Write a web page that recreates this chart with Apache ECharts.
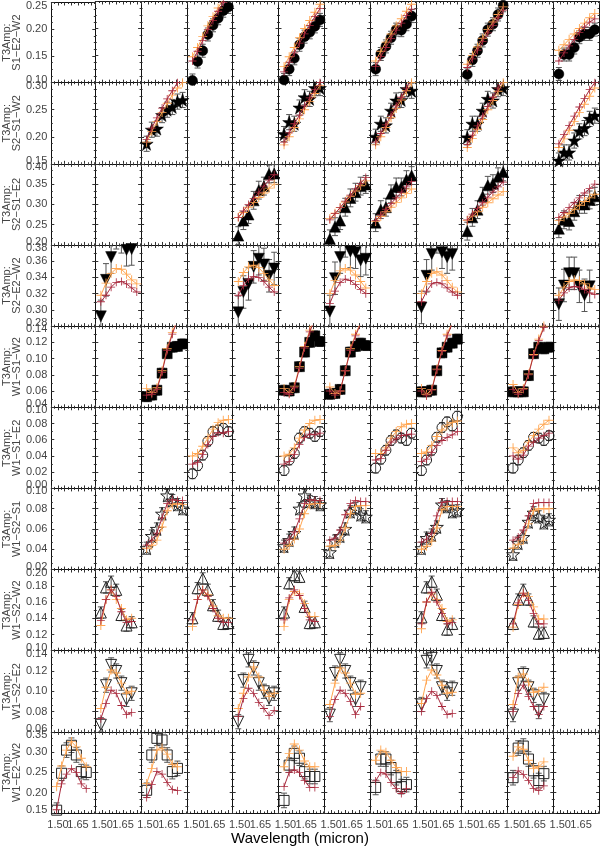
<!DOCTYPE html>
<html>
<head>
<meta charset="utf-8">
<script src="https://cdn.jsdelivr.net/npm/echarts@6/dist/echarts.min.js"></script>
<style>
  html, body { margin: 0; padding: 0; background: #fff; }
  #chart { width: 600px; height: 849px; }
</style>
</head>
<body>
<div id="chart"></div>
<script>
// spectral channels (micron)
const lam = [1.49, 1.527, 1.564, 1.601, 1.638, 1.675, 1.712, 1.749];

const rowNames = ['S1−E2−W2', 'S2−S1−W2', 'S2−S1−E2', 'S2−E2−W2', 'W1−S1−W2',
                  'W1−S1−E2', 'W1−S2−S1', 'W1−S2−W2', 'W1−S2−E2', 'W1−E2−W2'];
const yMin  = [0.10, 0.15, 0.20, 0.28, 0.04, 0.00, 0.02, 0.10, 0.06, 0.15];
const yMax  = [0.25, 0.30, 0.40, 0.38, 0.14, 0.10, 0.10, 0.20, 0.14, 0.35];
const yStep = [0.05, 0.05, 0.05, 0.02, 0.02, 0.02, 0.02, 0.02, 0.02, 0.05];
const rowErr = [0.012, 0.014, 0.022, 0.02, 0.006, 0.006, 0.006, 0.007, 0.007, 0.018];

// which of the 12 columns hold data, per row (1-based)
const rowCols = [
  [4, 6, 8, 10, 12], [3, 6, 8, 10, 12], [5, 7, 8, 10, 12], [2, 5, 7, 9, 12], [3, 6, 7, 9, 11],
  [4, 6, 8, 9, 11], [3, 6, 7, 9, 11], [2, 4, 6, 9, 11], [2, 5, 7, 9, 11], [1, 3, 6, 8, 11]
];

// row 1: S1-E2-W2
const r1Data = [
  [0.104, 0.139, 0.159, 0.189, 0.206, 0.219, 0.233, 0.240],
  [0.105, 0.125, 0.145, 0.170, 0.185, 0.193, 0.204, 0.216],
  [0.125, 0.153, 0.167, 0.183, 0.198, 0.197, 0.208, 0.223],
  [0.115, 0.142, 0.159, 0.178, 0.198, 0.208, 0.226, 0.243],
  [0.116, 0.152, 0.152, 0.165, 0.184, 0.190, 0.190, 0.198]
];
const r1Orange = [
  [0.148, 0.165, 0.185, 0.205, 0.222, 0.238, 0.255, 0.270],
  [0.130, 0.148, 0.165, 0.183, 0.200, 0.215, 0.230, 0.245],
  [0.140, 0.158, 0.175, 0.190, 0.205, 0.218, 0.232, 0.245],
  [0.134, 0.150, 0.166, 0.182, 0.198, 0.212, 0.226, 0.240],
  [0.160, 0.170, 0.180, 0.190, 0.200, 0.210, 0.220, 0.228]
];
const r1Red = [
  [0.140, 0.158, 0.178, 0.198, 0.215, 0.232, 0.248, 0.262],
  [0.120, 0.138, 0.155, 0.173, 0.190, 0.206, 0.222, 0.237],
  [0.130, 0.148, 0.165, 0.182, 0.197, 0.210, 0.224, 0.236],
  [0.128, 0.144, 0.160, 0.176, 0.192, 0.206, 0.220, 0.234],
  [0.140, 0.155, 0.168, 0.180, 0.193, 0.203, 0.212, 0.218]
];

// row 2: S2-S1-W2
const r2Data = [
  [0.187, 0.213, 0.215, 0.240, 0.250, 0.255, 0.265, 0.268],
  [0.205, 0.227, 0.224, 0.254, 0.273, 0.270, 0.290, 0.290],
  [0.200, 0.224, 0.221, 0.248, 0.267, 0.268, 0.288, 0.285],
  [0.199, 0.224, 0.224, 0.248, 0.270, 0.267, 0.288, 0.290],
  [0.156, 0.171, 0.171, 0.193, 0.210, 0.216, 0.233, 0.239]
];
const r2Orange = [
  [0.190, 0.210, 0.228, 0.245, 0.262, 0.277, 0.290, 0.300],
  [0.185, 0.200, 0.217, 0.233, 0.250, 0.265, 0.280, 0.295],
  [0.185, 0.200, 0.217, 0.235, 0.252, 0.268, 0.285, 0.300],
  [0.180, 0.197, 0.214, 0.232, 0.250, 0.267, 0.284, 0.300],
  [0.180, 0.196, 0.212, 0.228, 0.245, 0.260, 0.275, 0.290]
];
const r2Red = [
  [0.195, 0.216, 0.235, 0.253, 0.270, 0.285, 0.300, 0.310],
  [0.190, 0.207, 0.224, 0.240, 0.257, 0.272, 0.287, 0.300],
  [0.190, 0.206, 0.222, 0.240, 0.257, 0.273, 0.290, 0.305],
  [0.186, 0.203, 0.220, 0.238, 0.256, 0.273, 0.290, 0.305],
  [0.187, 0.204, 0.221, 0.238, 0.255, 0.271, 0.287, 0.300]
];

// row 3: S2-S1-E2
const r3Data = [
  [0.223, 0.260, 0.275, 0.310, 0.335, 0.345, 0.375, 0.376],
  [0.215, 0.245, 0.260, 0.293, 0.316, 0.330, 0.345, 0.349],
  [0.255, 0.287, 0.293, 0.326, 0.343, 0.343, 0.361, 0.371],
  [0.234, 0.268, 0.287, 0.320, 0.347, 0.351, 0.368, 0.380],
  [0.240, 0.262, 0.259, 0.283, 0.300, 0.300, 0.311, 0.320]
];
const r3Orange = [
  [0.268, 0.280, 0.293, 0.305, 0.317, 0.328, 0.340, 0.350],
  [0.265, 0.278, 0.292, 0.306, 0.320, 0.333, 0.346, 0.358],
  [0.258, 0.270, 0.282, 0.293, 0.305, 0.316, 0.327, 0.338],
  [0.260, 0.271, 0.282, 0.293, 0.304, 0.314, 0.323, 0.332],
  [0.260, 0.269, 0.278, 0.288, 0.298, 0.307, 0.316, 0.325]
];
const r3Red = [
  [0.268, 0.284, 0.300, 0.315, 0.330, 0.345, 0.360, 0.373],
  [0.262, 0.277, 0.292, 0.308, 0.323, 0.338, 0.352, 0.366],
  [0.260, 0.274, 0.288, 0.302, 0.316, 0.330, 0.343, 0.356],
  [0.262, 0.276, 0.290, 0.304, 0.318, 0.331, 0.343, 0.355],
  [0.268, 0.280, 0.292, 0.304, 0.316, 0.328, 0.339, 0.350]
];

// row 4: S2-E2-W2
const r4Data = [
  [0.292, 0.337, 0.365, 0.395, 0.390, 0.374, 0.375, null],
  [0.297, 0.322, 0.332, 0.353, 0.363, 0.356, 0.342, 0.351],
  [0.298, 0.339, 0.365, 0.385, 0.372, 0.371, 0.361, 0.363],
  [0.303, 0.342, 0.369, 0.390, 0.371, 0.365, 0.369, null],
  [0.307, 0.330, 0.345, 0.345, 0.329, 0.318, 0.329, null]
];
const r4Orange = [
  [0.318, 0.333, 0.345, 0.351, 0.350, 0.344, 0.337, 0.332],
  [0.335, 0.346, 0.353, 0.355, 0.352, 0.345, 0.337, 0.330],
  [0.320, 0.336, 0.348, 0.351, 0.349, 0.343, 0.335, 0.327],
  [0.320, 0.335, 0.345, 0.347, 0.343, 0.336, 0.328, 0.322],
  [0.318, 0.328, 0.335, 0.337, 0.336, 0.332, 0.327, 0.325]
];
const r4Red = [
  [0.310, 0.318, 0.328, 0.334, 0.335, 0.332, 0.327, 0.322],
  [0.318, 0.330, 0.338, 0.341, 0.340, 0.335, 0.328, 0.322],
  [0.308, 0.323, 0.334, 0.338, 0.336, 0.331, 0.325, 0.320],
  [0.310, 0.323, 0.332, 0.334, 0.332, 0.327, 0.322, 0.318],
  [0.312, 0.321, 0.327, 0.329, 0.328, 0.325, 0.321, 0.319]
];

// row 5: W1-S1-W2
const r5Data = [
  [0.053, 0.055, 0.061, 0.082, 0.106, 0.114, 0.115, 0.118],
  [0.061, 0.060, 0.064, 0.090, 0.108, 0.120, 0.128, 0.121],
  [0.056, 0.057, 0.062, 0.085, 0.108, 0.115, 0.119, 0.116],
  [0.059, 0.059, 0.061, 0.085, 0.107, 0.114, 0.119, 0.124],
  [0.059, 0.059, 0.059, 0.079, 0.106, 0.114, 0.112, 0.114]
];
const r5Orange = [
  [0.063, 0.058, 0.064, 0.085, 0.112, 0.132, 0.150, 0.160],
  [0.063, 0.058, 0.066, 0.090, 0.115, 0.135, 0.150, 0.160],
  [0.065, 0.057, 0.060, 0.085, 0.112, 0.130, 0.145, 0.155],
  [0.063, 0.056, 0.062, 0.087, 0.110, 0.130, 0.145, 0.155],
  [0.068, 0.058, 0.063, 0.081, 0.105, 0.124, 0.140, 0.150]
];
const r5Red = [
  [0.055, 0.056, 0.062, 0.083, 0.110, 0.130, 0.148, 0.160],
  [0.058, 0.056, 0.064, 0.088, 0.113, 0.133, 0.148, 0.158],
  [0.060, 0.055, 0.060, 0.085, 0.110, 0.128, 0.143, 0.153],
  [0.060, 0.054, 0.061, 0.086, 0.109, 0.128, 0.143, 0.153],
  [0.062, 0.056, 0.062, 0.080, 0.104, 0.122, 0.138, 0.148]
];

// row 6: W1-S1-E2
const r6Data = [
  [0.018, 0.028, 0.041, 0.058, 0.070, 0.072, 0.074, 0.070],
  [0.022, 0.035, 0.043, 0.062, 0.070, 0.068, 0.064, 0.070],
  [0.025, 0.036, 0.047, 0.059, 0.066, 0.062, 0.059, 0.068],
  [0.022, 0.035, 0.047, 0.063, 0.075, 0.082, 0.077, 0.089],
  [0.025, 0.035, 0.044, 0.053, 0.063, 0.062, 0.059, 0.065]
];
const r6Orange = [
  [0.040, 0.043, 0.052, 0.062, 0.073, 0.081, 0.084, 0.085],
  [0.040, 0.042, 0.050, 0.062, 0.072, 0.080, 0.084, 0.085],
  [0.043, 0.043, 0.050, 0.062, 0.070, 0.076, 0.079, 0.080],
  [0.043, 0.045, 0.053, 0.064, 0.072, 0.078, 0.081, 0.083],
  [0.050, 0.044, 0.047, 0.057, 0.065, 0.073, 0.079, 0.084]
];
const r6Red = [
  [0.030, 0.032, 0.042, 0.054, 0.064, 0.069, 0.068, 0.070],
  [0.030, 0.033, 0.042, 0.054, 0.063, 0.067, 0.066, 0.068],
  [0.035, 0.037, 0.047, 0.057, 0.061, 0.065, 0.066, 0.067],
  [0.033, 0.036, 0.044, 0.053, 0.059, 0.063, 0.066, 0.070],
  [0.040, 0.036, 0.041, 0.052, 0.057, 0.062, 0.065, 0.068]
];

// row 7: W1-S2-S1
const r7Data = [
  [0.041, 0.053, 0.060, 0.075, 0.093, 0.088, 0.084, 0.080],
  [0.043, 0.049, 0.056, 0.080, 0.093, 0.087, 0.086, 0.084],
  [0.037, 0.048, 0.053, 0.060, 0.077, 0.080, 0.074, 0.072],
  [0.041, 0.051, 0.054, 0.062, 0.084, 0.082, 0.077, 0.078],
  [0.035, 0.046, 0.052, 0.067, 0.076, 0.072, 0.066, 0.069]
];
const r7Orange = [
  [0.041, 0.044, 0.049, 0.062, 0.078, 0.084, 0.085, 0.084],
  [0.040, 0.044, 0.050, 0.060, 0.075, 0.084, 0.085, 0.085],
  [0.043, 0.044, 0.049, 0.061, 0.075, 0.082, 0.083, 0.083],
  [0.040, 0.043, 0.048, 0.061, 0.079, 0.082, 0.082, 0.082],
  [0.041, 0.045, 0.049, 0.065, 0.078, 0.080, 0.080, 0.080]
];
const r7Red = [
  [0.044, 0.049, 0.056, 0.071, 0.085, 0.089, 0.088, 0.088],
  [0.046, 0.050, 0.057, 0.070, 0.085, 0.089, 0.088, 0.088],
  [0.049, 0.051, 0.059, 0.074, 0.085, 0.088, 0.087, 0.087],
  [0.047, 0.050, 0.056, 0.073, 0.086, 0.087, 0.087, 0.087],
  [0.049, 0.052, 0.059, 0.073, 0.085, 0.086, 0.086, 0.086]
];

// row 8: W1-S2-W2
const r8Data = [
  [0.147, 0.178, 0.185, 0.175, 0.144, 0.131, 0.135, null],
  [0.140, 0.177, 0.189, 0.175, 0.156, 0.143, 0.133, 0.134],
  [0.147, 0.183, 0.193, 0.191, 0.154, 0.134, 0.135, null],
  [0.141, 0.178, 0.185, 0.169, 0.144, 0.126, 0.133, null],
  [0.133, 0.163, 0.175, 0.163, 0.136, 0.121, 0.122, null]
];
const r8Orange = [
  [0.131, 0.163, 0.175, 0.163, 0.152, 0.138, 0.140, null],
  [0.130, 0.163, 0.175, 0.169, 0.155, 0.143, 0.140, 0.140],
  [0.130, 0.163, 0.173, 0.170, 0.158, 0.142, 0.142, null],
  [0.127, 0.160, 0.170, 0.163, 0.152, 0.136, 0.138, null],
  [0.129, 0.157, 0.171, 0.167, 0.154, 0.139, 0.139, null]
];
const r8Red = [
  [0.137, 0.163, 0.175, 0.167, 0.148, 0.135, 0.136, null],
  [0.138, 0.163, 0.175, 0.167, 0.152, 0.140, 0.135, 0.135],
  [0.138, 0.165, 0.175, 0.168, 0.152, 0.138, 0.136, null],
  [0.133, 0.160, 0.172, 0.160, 0.146, 0.133, 0.135, null],
  [0.133, 0.159, 0.171, 0.162, 0.146, 0.133, 0.133, null]
];

// row 9: W1-S2-E2
const r9Data = [
  [0.067, 0.106, 0.126, 0.120, 0.108, 0.092, 0.098, null],
  [0.070, 0.111, 0.131, 0.123, 0.108, 0.100, 0.093, 0.098],
  [0.077, 0.118, 0.131, 0.120, 0.108, 0.092, 0.104, null],
  [0.087, 0.130, 0.133, 0.120, 0.104, 0.098, 0.103, null],
  [0.077, 0.108, 0.117, 0.104, 0.096, 0.080, 0.092, null]
];
const r9Orange = [
  [0.083, 0.104, 0.121, 0.118, 0.108, 0.098, 0.100, null],
  [0.083, 0.098, 0.114, 0.124, 0.114, 0.101, 0.095, 0.098],
  [0.087, 0.108, 0.123, 0.118, 0.108, 0.097, 0.098, null],
  [0.088, 0.111, 0.121, 0.116, 0.106, 0.098, 0.099, null],
  [0.087, 0.114, 0.117, 0.109, 0.099, 0.100, 0.104, null]
];
const r9Red = [
  [0.073, 0.088, 0.101, 0.098, 0.086, 0.077, 0.079, null],
  [0.075, 0.093, 0.103, 0.098, 0.089, 0.083, 0.076, 0.081],
  [0.075, 0.092, 0.101, 0.098, 0.090, 0.077, 0.085, null],
  [0.080, 0.093, 0.100, 0.096, 0.085, 0.077, 0.078, null],
  [0.080, 0.098, 0.106, 0.095, 0.085, 0.077, 0.085, null]
];

// row 10: W1-E2-W2
const r10Data = [
  [0.157, 0.248, 0.305, 0.317, 0.293, 0.252, 0.250, null],
  [0.206, 0.293, 0.334, 0.330, 0.293, 0.252, 0.260, null],
  [0.181, 0.268, 0.297, 0.285, 0.252, 0.240, 0.240, null],
  [0.213, 0.283, 0.283, 0.262, 0.237, 0.215, 0.220, null],
  [0.237, 0.310, 0.315, 0.283, 0.254, 0.230, 0.247, null]
];
const r10Orange = [
  [0.215, 0.266, 0.305, 0.326, 0.313, 0.285, 0.264, null],
  [0.223, 0.260, 0.305, 0.310, 0.295, 0.270, 0.264, null],
  [0.264, 0.297, 0.320, 0.305, 0.278, 0.264, 0.264, null],
  [0.280, 0.305, 0.300, 0.280, 0.262, 0.252, 0.252, null],
  [0.290, 0.313, 0.307, 0.280, 0.260, 0.264, 0.276, null]
];
const r10Red = [
  [0.158, 0.222, 0.246, 0.259, 0.250, 0.222, 0.210, null],
  [0.188, 0.220, 0.252, 0.246, 0.225, 0.208, 0.205, null],
  [0.215, 0.250, 0.256, 0.250, 0.230, 0.213, 0.213, null],
  [0.229, 0.250, 0.246, 0.225, 0.210, 0.198, 0.210, null],
  [0.237, 0.254, 0.245, 0.230, 0.210, 0.205, 0.217, null]
];

const allData   = [r1Data, r2Data, r3Data, r4Data, r5Data, r6Data, r7Data, r8Data, r9Data, r10Data];
const allOrange = [r1Orange, r2Orange, r3Orange, r4Orange, r5Orange, r6Orange, r7Orange, r8Orange, r9Orange, r10Orange];
const allRed    = [r1Red, r2Red, r3Red, r4Red, r5Red, r6Red, r7Red, r8Red, r9Red, r10Red];

const STAR = 'path://M50,2L61.8,36.2L97.6,36.2L68.9,57.3L79.4,91.6L50,70.6L20.6,91.6L31.1,57.3L2.4,36.2L38.2,36.2Z';
const CROSS = 'path://M0,45L100,45L100,55L0,55Z M45,0L55,0L55,100L45,100Z';
const rowSymbol = ['circle', STAR, 'triangle', 'triangle', 'rect', 'circle', STAR, 'triangle', 'triangle', 'rect'];
const rowRotate = [0, 0, 0, 180, 0, 0, 0, 0, 180, 0];
const rowSize = [10, 13, 11, 11, 10, 10, 13, 11, 11, 10];

const FONT = 'Liberation Sans, Arial, sans-serif';
const X0 = 49.5, CW = 45.8, Y0 = 1.5, RH = 81.15;
const NCOL = 12, NROW = 10;
const TICK = '#333';

const grid = [], xAxis = [], yAxis = [], series = [];

function yFmt(r) {
  return function (v) {
    const s = v.toFixed(2);
    if (Math.abs(v - yMax[r]) < 1e-9) return '{hi|' + s + '}';
    if (Math.abs(v - yMin[r]) < 1e-9) return '{lo|' + s + '}';
    return s;
  };
}

function xFmt(v) {
  if (Math.abs(v - 1.50) < 1e-6) return '1.50';
  if (Math.abs(v - 1.65) < 1e-6) return '1.65';
  return '';
}

function renderErr(params, api) {
  const x = api.value(0), y = api.value(1), e = api.value(2);
  const hi = api.coord([x, y + e]);
  const lo = api.coord([x, y - e]);
  const cap = 3;
  const st = () => ({ stroke: '#555', lineWidth: 1 });
  return {
    type: 'group',
    children: [
      { type: 'line', shape: { x1: hi[0], y1: hi[1], x2: lo[0], y2: lo[1] }, style: st() },
      { type: 'line', shape: { x1: hi[0] - cap, y1: hi[1], x2: hi[0] + cap, y2: hi[1] }, style: st() },
      { type: 'line', shape: { x1: lo[0] - cap, y1: lo[1], x2: lo[0] + cap, y2: lo[1] }, style: st() }
    ]
  };
}

function pts(arr) {
  const out = [];
  arr.forEach((v, i) => { if (v !== null) out.push([lam[i], v]); });
  return out;
}

for (let r = 0; r < NROW; r++) {
  const nMajor = Math.round((yMax[r] - yMin[r]) / yStep[r]);
  const ySplit = Math.max(2, Math.round(RH / nMajor / 7));
  for (let c = 0; c < NCOL; c++) {
    const g = r * NCOL + c;
    grid.push({ left: X0 + c * CW, top: Y0 + r * RH, width: CW, height: RH, containLabel: false });
    const xBase = {
      type: 'value', gridIndex: g, min: 1.45, max: 1.78, interval: 0.05,
      axisLine: { show: true, onZero: false, lineStyle: { color: '#111', width: 1 } },
      axisTick: { show: true, inside: true, length: 3, lineStyle: { color: TICK } },
      minorTick: { show: true, splitNumber: 2, length: 1.5, lineStyle: { color: TICK } },
      splitLine: { show: false }
    };
    xAxis.push(Object.assign({}, xBase, {
      position: 'bottom',
      axisLabel: {
        show: r === NROW - 1, formatter: xFmt, fontSize: 11, color: '#444',
        fontFamily: FONT, margin: 6, showMinLabel: true, showMaxLabel: false
      }
    }));
    xAxis.push(Object.assign({}, xBase, { position: 'top', axisLabel: { show: false } }));

    const yBase = {
      type: 'value', gridIndex: g, min: yMin[r], max: yMax[r], interval: yStep[r],
      axisLine: { show: true, onZero: false, lineStyle: { color: '#111', width: 1 } },
      axisTick: { show: true, inside: true, length: 3, lineStyle: { color: TICK } },
      minorTick: { show: true, splitNumber: ySplit, length: 1.5, lineStyle: { color: TICK } },
      splitLine: { show: false }
    };
    const left = Object.assign({}, yBase, {
      position: 'left',
      axisLabel: {
        show: c === 0, formatter: yFmt(r), fontSize: 11, color: '#444', fontFamily: FONT, margin: 4,
        showMinLabel: true, showMaxLabel: true,
        rich: {
          hi: { fontSize: 11, color: '#444', fontFamily: FONT, padding: [6, 0, 0, 0] },
          lo: { fontSize: 11, color: '#444', fontFamily: FONT, padding: [0, 0, 6, 0] }
        }
      }
    });
    if (c === 0) {
      left.name = 'T3Amp:\n' + rowNames[r];
      left.nameLocation = 'middle';
      left.nameRotate = 90;
      left.nameGap = 29;
      left.nameTextStyle = { fontSize: 11, color: '#444', fontFamily: FONT, lineHeight: 10 };
    }
    yAxis.push(left);
    yAxis.push(Object.assign({}, yBase, { position: 'right', axisLabel: { show: false } }));
  }
}

for (let r = 0; r < NROW; r++) {
  const filled = r < 5;
  rowCols[r].forEach((col, k) => {
    const g = r * NCOL + (col - 1);
    const d = allData[r][k];
    const errPts = [];
    d.forEach((v, i) => { if (v !== null) errPts.push([lam[i], v, rowErr[r]]); });
    series.push({
      type: 'custom', xAxisIndex: 2 * g, yAxisIndex: 2 * g, renderItem: renderErr,
      data: errPts, clip: true, z: 1, silent: true, encode: { x: 0, y: 1 }
    });
    series.push({
      type: 'scatter', xAxisIndex: 2 * g, yAxisIndex: 2 * g, data: pts(d),
      symbol: rowSymbol[r], symbolRotate: rowRotate[r], symbolSize: rowSize[r], clip: true, z: 2,
      itemStyle: filled
        ? { color: '#000', borderColor: '#000', borderWidth: 0.5, opacity: 1 }
        : { color: 'rgba(0,0,0,0)', borderColor: '#222', borderWidth: 1, opacity: 1 },
      silent: true
    });
    series.push({
      type: 'line', xAxisIndex: 2 * g, yAxisIndex: 2 * g, data: pts(allOrange[r][k]),
      symbol: CROSS, symbolSize: 9, showSymbol: true, clip: true, z: 3,
      lineStyle: { color: '#FFA550', width: 1 }, itemStyle: { color: '#FFA550' }, silent: true
    });
    series.push({
      type: 'line', xAxisIndex: 2 * g, yAxisIndex: 2 * g, data: pts(allRed[r][k]),
      symbol: CROSS, symbolSize: 8, showSymbol: true, clip: true, z: 4,
      lineStyle: { color: '#A8283C', width: 1 }, itemStyle: { color: '#A8283C' }, silent: true
    });
  });
}

const chart = echarts.init(document.getElementById('chart'), null, { renderer: 'canvas' });
chart.setOption({
  animation: false,
  backgroundColor: '#fff',
  grid: grid,
  xAxis: xAxis,
  yAxis: yAxis,
  series: series,
  graphic: [{
    type: 'text', left: 'center', top: 831,
    style: { text: 'Wavelength (micron)', fontSize: 15, fill: '#000', fontFamily: FONT }
  }]
});
</script>
</body>
</html>
